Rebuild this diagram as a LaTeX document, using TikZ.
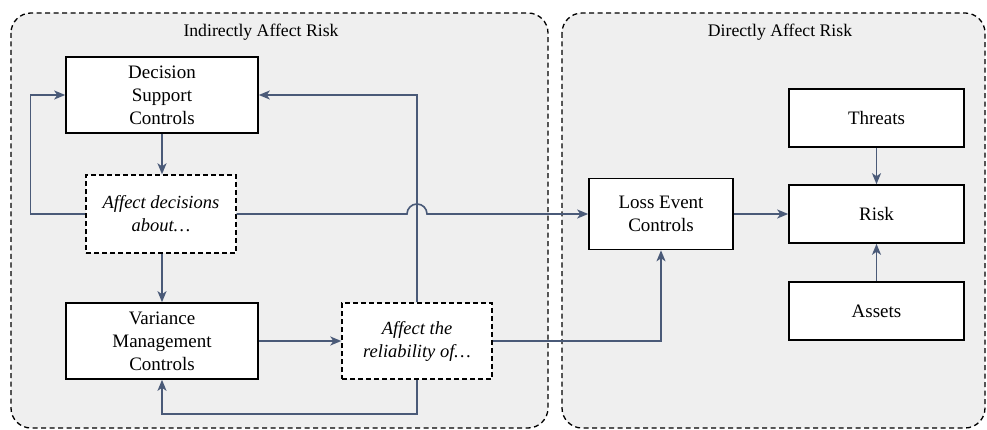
\documentclass[tikz,border=0pt]{standalone}
\usepackage{fontspec}
\setmainfont{Liberation Serif}
\usetikzlibrary{arrows.meta}
\definecolor{linkcol}{HTML}{4A5A78}
\definecolor{groupfill}{HTML}{EFEFEF}
\begin{document}
\begin{tikzpicture}[x=1pt,y=1pt,
  font=\fontsize{19}{23}\selectfont,
  title/.style={font=\fontsize{17.7}{22}\selectfont},
  group/.style={draw=black,fill=groupfill,dash pattern=on 5pt off 3.5pt,line width=1.3pt,rounded corners=20pt},
  ctrl/.style={draw=black,fill=white,line width=1.6pt,align=center,inner sep=0pt},
  effect/.style={draw=black,fill=white,line width=1.4pt,dash pattern=on 5pt off 3pt,align=center,inner sep=0pt,font=\fontsize{18.5}{23}\selectfont\itshape},
  link/.style={draw=linkcol,line width=1.6pt,-{Stealth[length=11pt,width=9pt,inset=3pt]}}]
\useasboundingbox (0,0) rectangle (987,-430);
% group panels
\draw[group] (11,-13) rectangle (548,-428);
\draw[group] (562,-13) rectangle (985,-428);
\node[title] (tl) at (261,-32) {Indirectly Affect Risk};
\node[title] (tr) at (780,-32) {Directly Affect Risk};
% boxes
\node[ctrl,minimum width=192pt,minimum height=76pt] (dsc) at (162,-95) {Decision\\Support\\Controls};
\node[effect,minimum width=150pt,minimum height=78pt] (ad) at (161,-214) {Affect decisions\\about\dots};
\node[ctrl,minimum width=192pt,minimum height=76pt] (vmc) at (162,-341) {Variance\\Management\\Controls};
\node[effect,minimum width=150pt,minimum height=76pt] (ar) at (417,-341) {Affect the\\reliability of\dots};
\node[ctrl,minimum width=144pt,minimum height=71pt] (lec) at (661,-214) {Loss Event\\Controls};
\node[ctrl,minimum width=175pt,minimum height=58pt] (thr) at (876.5,-118) {Threats};
\node[ctrl,minimum width=175pt,minimum height=58pt] (risk) at (876.5,-214) {Risk};
\node[ctrl,minimum width=175pt,minimum height=58pt] (ass) at (876.5,-311) {Assets};
% connectors
\draw[link] (dsc.south) -- (ad.north -| dsc.south);
\draw[link] (ad.south -| dsc.south) -- (vmc.north);
\draw[link] (ad.west) -- ++(-55,0) |- (dsc.west);
\draw[link] (ar.north) |- (dsc.east);
\coordinate (jumpa) at (407,-214);
\draw[link] (ad.east) -- (jumpa) arc (180:0:10) -- (lec.west);
\draw[link] (vmc.east) -- (ar.west);
\draw[link] (ar.south) -- ++(0,-34) -| (vmc.south);
\draw[link] (ar.east) -| (lec.south);
\draw[link] (lec.east) -- (risk.west);
\draw[link] (thr.south) -- (risk.north);
\draw[link] (ass.north) -- (risk.south);
\end{tikzpicture}
\end{document}
